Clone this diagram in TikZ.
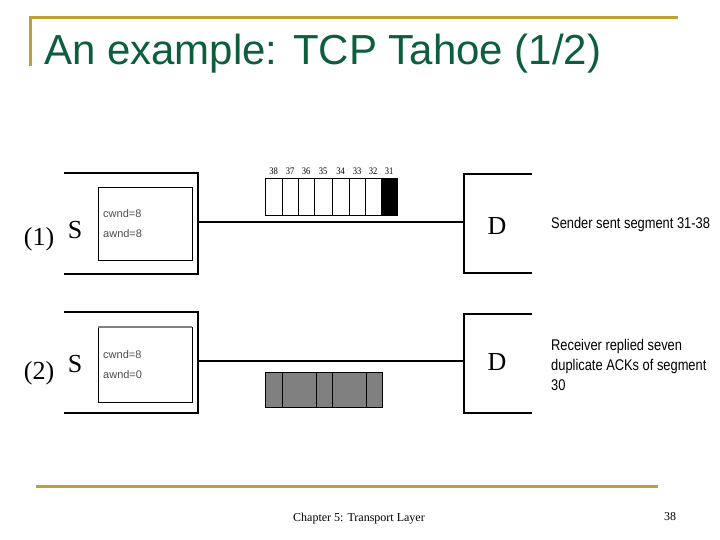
\documentclass[tikz,border=0pt]{standalone}
\usepackage{fontspec}
\setmainfont{Liberation Serif}
\newfontfamily\arialf{Liberation Sans}
\newfontfamily\narrowf[FakeStretch=0.83]{Liberation Sans}
\newfontfamily\narrowserif[FakeStretch=0.85]{Liberation Serif}
\definecolor{gold}{RGB}{192,160,48}
\definecolor{titlegreen}{RGB}{12,94,60}
\definecolor{cellgray}{RGB}{128,128,128}
\begin{document}
\begin{tikzpicture}[x=1pt,y=-1pt,
  goldline/.style={draw=gold,line width=3pt},
  bracket/.style={draw=black,line width=2.5pt},
  link/.style={draw=black,line width=2pt},
  inbox/.style={draw=black,line width=0.9pt},
  big/.style={font=\fontsize{26}{26}\selectfont,inner sep=0pt},
  small/.style={font=\arialf\fontsize{11}{11}\selectfont,text=black!70,inner sep=0pt,anchor=base west},
  note/.style={font=\narrowf\fontsize{15.5}{20}\selectfont,inner sep=0pt,anchor=base west,align=left},
  segno/.style={font=\narrowserif\fontsize{10}{10}\selectfont,inner sep=0pt,anchor=base},
  cell/.style={draw=black,line width=0.8pt}]
\useasboundingbox (0,0) rectangle (720,540);
% title
\draw[goldline] (30,66) -- (30,18) -- (678,18);
\node[anchor=base west,inner sep=0pt,text=titlegreen,font=\arialf\fontsize{42}{42}\selectfont] (title) at (44,65) {An example: TCP Tahoe (1/2)};
% footer
\draw[goldline] (36,486) -- (658,486);
\node[anchor=base,inner sep=0pt,font=\fontsize{12}{12}\selectfont] (foot) at (359,521) {Chapter 5: Transport Layer};
\node[anchor=base,inner sep=0pt,font=\fontsize{12}{12}\selectfont] (page) at (670,520) {38};

% ---------- row 1 ----------
\draw[bracket] (64,173) -- (198,173) -- (198,274) -- (64,274);
\draw[bracket] (532,174) -- (464,174) -- (464,273) -- (532,273);
\coordinate (s1) at (198,222);
\coordinate (d1) at (464,222);
\draw[link] (s1) -- (d1);
\draw[inbox] (98,187) rectangle (192,260);
\node[small] (cw1) at (103,218) {cwnd=8};
\node[small] (aw1) at (103,237) {awnd=8};
\node[big,anchor=base] (S1) at (75,238) {S};
\node[big,anchor=base] (n1) at (39,245) {(1)};
\node[big,anchor=base] (D1) at (497,235) {D};
\node[note] (t1) at (551,229) {Sender sent segment 31-38};
% segments
\foreach \x/\n in {273.5/38,290/37,306/36,323/35,340.5/34,357/33,373/32,389/31}
  \node[segno] (sn\n) at (\x,175) {\n};
\fill[black] (381,178) rectangle (397,215);
\draw[cell] (265,178) rectangle (397,215);
\foreach \x in {282,298,314,332,349,365,381}
  \draw[cell] (\x,178) -- (\x,215);

% ---------- row 2 ----------
\draw[bracket] (64,312) -- (198,312) -- (198,413) -- (64,413);
\draw[bracket] (532,314) -- (464,314) -- (464,413) -- (532,413);
\coordinate (s2) at (198,361);
\coordinate (d2) at (464,361);
\draw[link] (s2) -- (d2);
\draw[inbox] (98,327) rectangle (192,402);
\draw[draw=gray,line width=1.2pt] (98,327) -- (192,327);
\node[small] (cw2) at (103,358) {cwnd=8};
\node[small] (aw2) at (103,378) {awnd=0};
\node[big,anchor=base] (S2) at (75,372) {S};
\node[big,anchor=base] (n2) at (39,379) {(2)};
\node[big,anchor=base] (D2) at (497,370) {D};
\node[note] (t2) at (551,390) {Receiver replied seven\\duplicate ACKs of segment\\30};
\fill[cellgray] (265,372) rectangle (382,407);
\draw[cell] (265,372) rectangle (382,407);
\foreach \x in {282,316,332,366}
  \draw[cell] (\x,372) -- (\x,407);
\end{tikzpicture}
\end{document}
